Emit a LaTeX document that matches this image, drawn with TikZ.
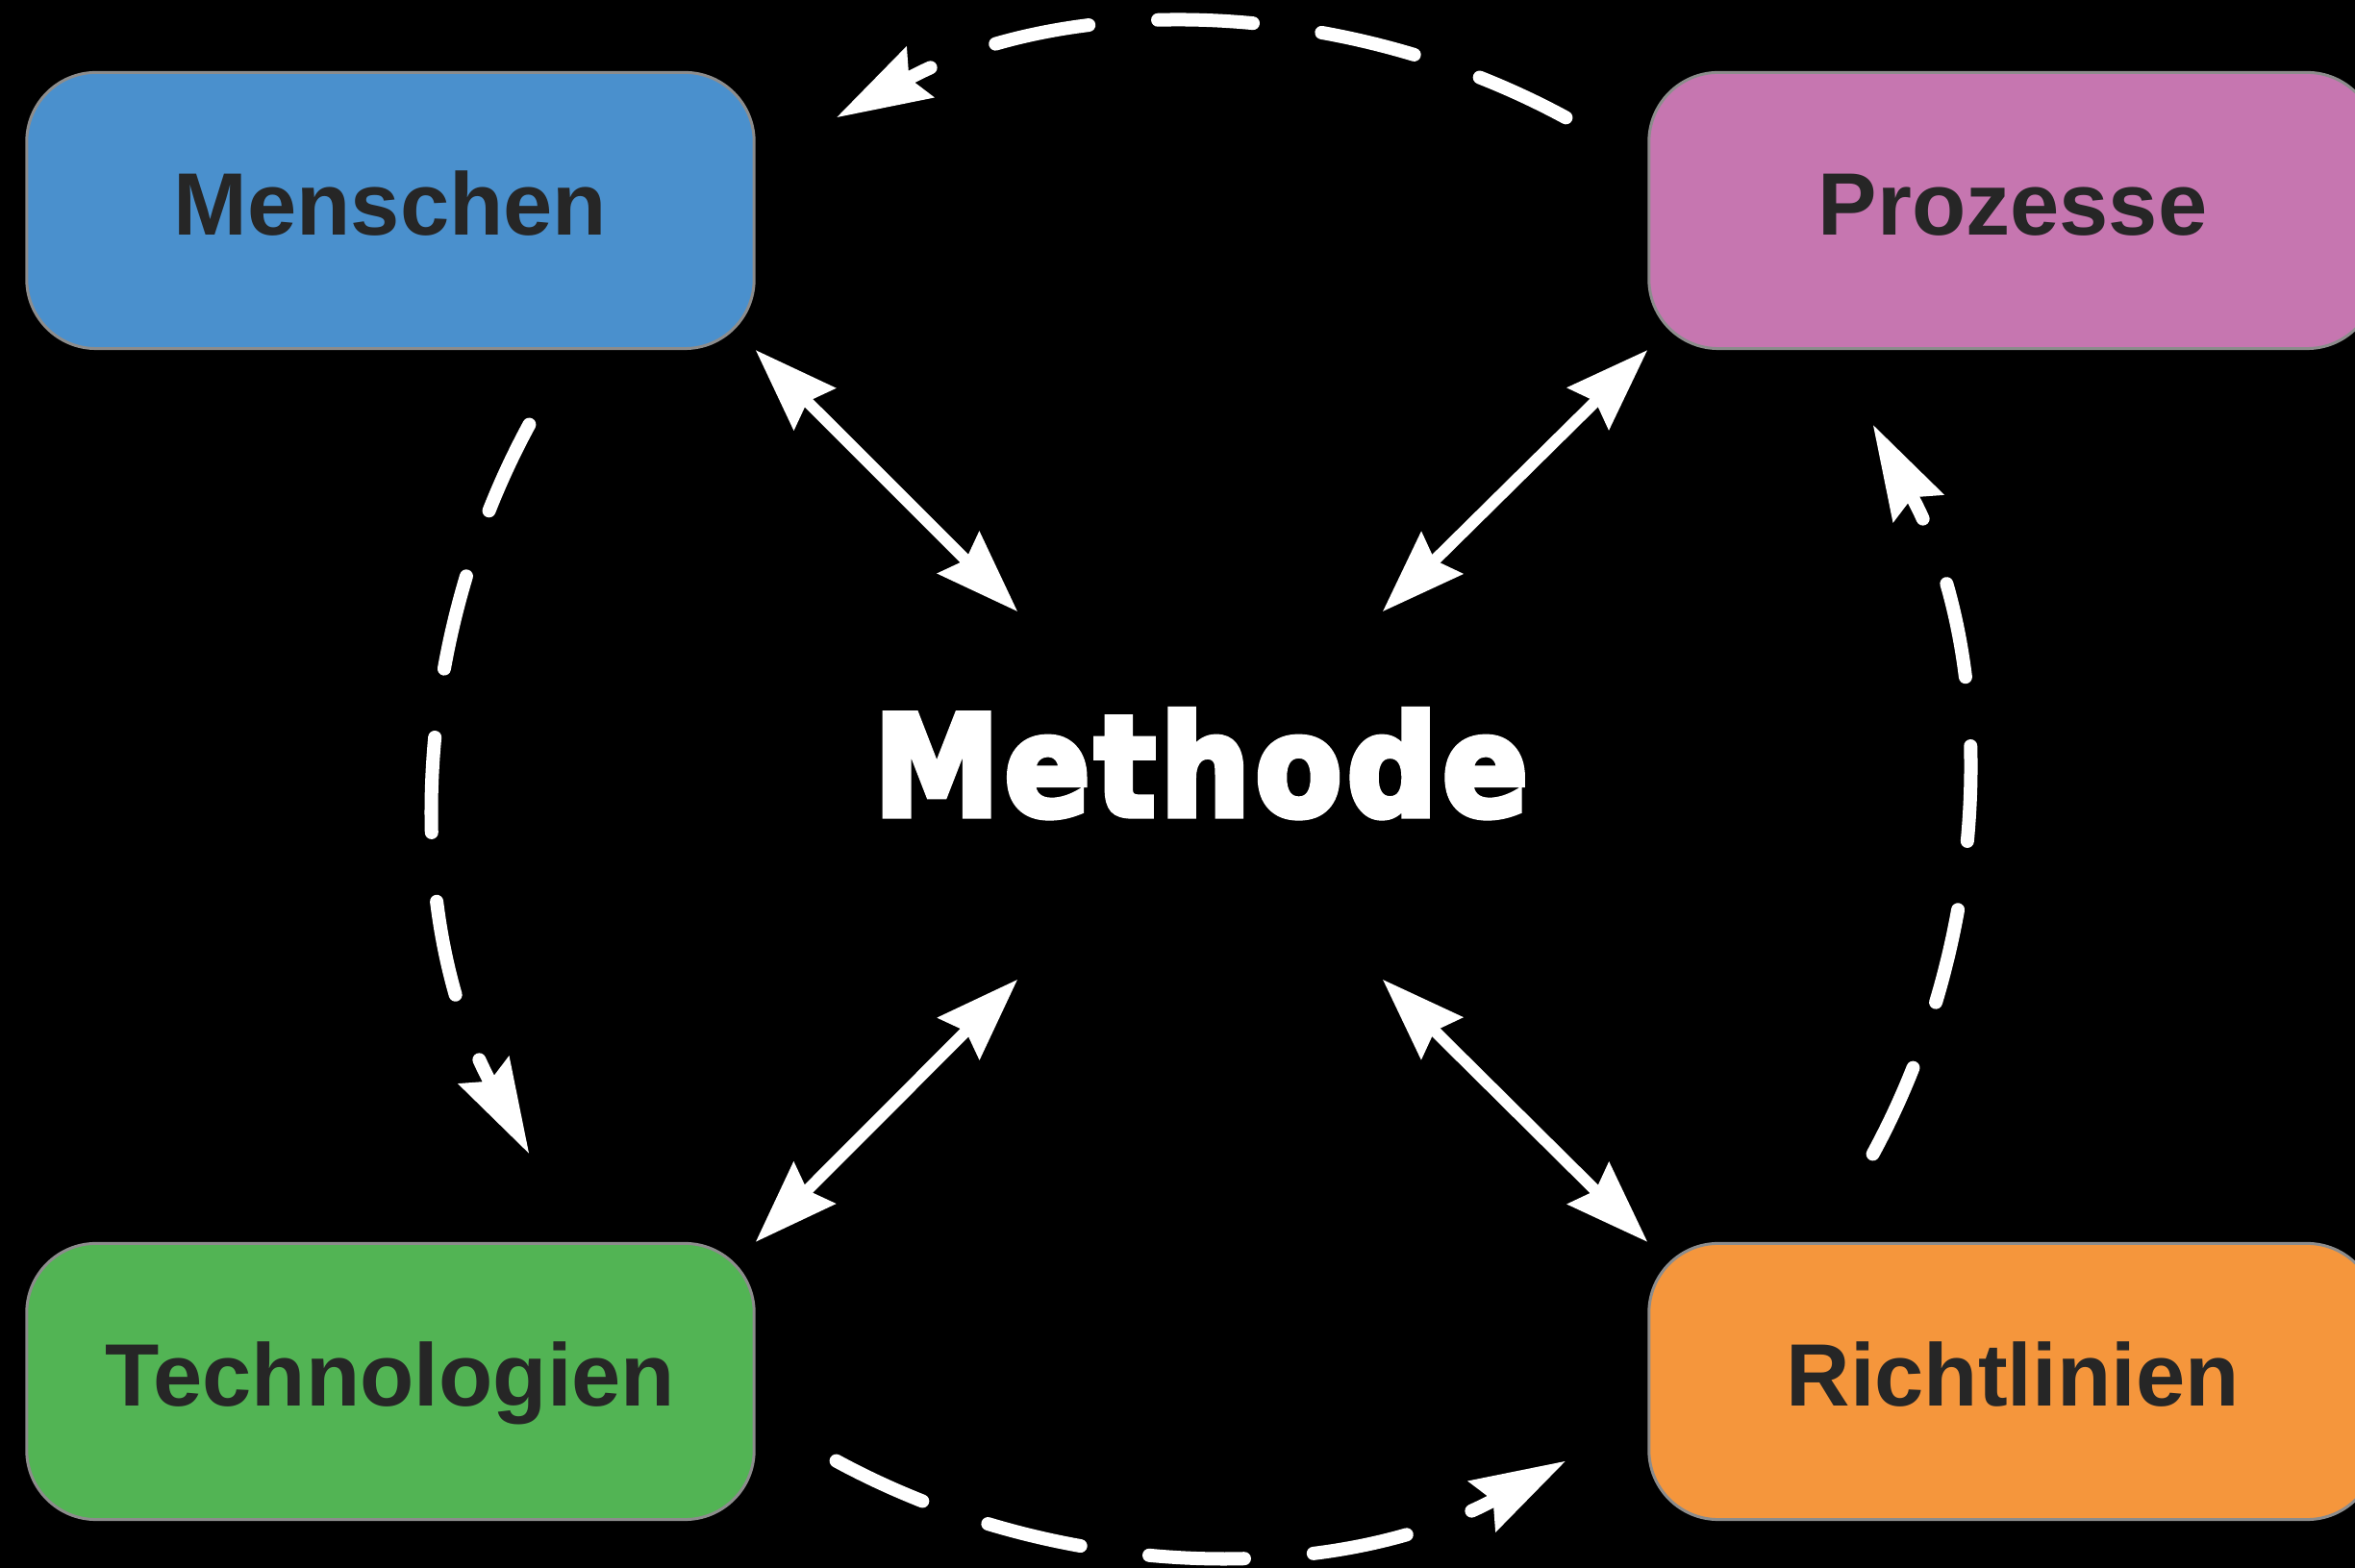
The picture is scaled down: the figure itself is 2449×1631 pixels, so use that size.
\documentclass[tikz,border=0pt]{standalone}
\usepackage{fontspec}
\setmainfont{Liberation Sans}
\newfontfamily\heavyfont[FakeBold=5,LetterSpace=4]{DejaVu Sans}
\usetikzlibrary{arrows.meta}
\definecolor{menblue}{HTML}{4A90CD}
\definecolor{propink}{HTML}{C676B0}
\definecolor{techgreen}{HTML}{52B454}
\definecolor{richorange}{HTML}{F5963C}
\definecolor{boxgray}{HTML}{8C8C8C}
\definecolor{labeltext}{HTML}{262626}
\begin{document}
\begin{tikzpicture}[x=0.01cm,y=0.01cm,
  box/.style={draw=boxgray, line width=0.03cm, rounded corners=0.72cm,
    minimum width=7.56cm, minimum height=2.87cm, inner sep=0pt,
    text height=0.66cm, text depth=0.15cm,
    font=\fontsize{26.2pt}{30pt}\selectfont\bfseries, text=labeltext},
  link/.style={white, line width=0.12cm,
    {Stealth[length=0.86cm,width=0.6cm,inset=0.1cm]}-{Stealth[length=0.86cm,width=0.6cm,inset=0.1cm]}},
  loopline/.style={white, line width=0.14cm, line cap=round,
    dash pattern=on 0.99cm off 0.72cm,
    -{Stealth[length=0.98cm,width=0.58cm,inset=0.12cm]}}
]
\fill[black] (0,0) rectangle (2449,1631);
\useasboundingbox (0,0) rectangle (2449,1631);
\clip (0,0) rectangle (2449,1631);

% boxes
\node[box, fill=menblue]    (men)  at (406,1412) {Menschen};
\node[box, fill=propink]    (pro)  at (2093,1412) {Prozesse};
\node[box, fill=techgreen]  (tech) at (406,194) {Technologien};
\node[box, fill=richorange] (rich) at (2093,194) {Richtlinien};

% centre
\node[inner sep=0pt, anchor=base, text=white,
  font=\heavyfont\bfseries\fontsize{41pt}{48pt}\selectfont] (meth) at (1249,783)
  {\scalebox{0.91}[1]{Methode}};
\node[minimum width=3.78cm, minimum height=3.81cm, inner sep=0pt] (hub) at (1248,803.5) {};

% double arrows
\draw[link] (men.south east) -- (hub.north west);
\draw[link] (pro.south west) -- (hub.north east);
\draw[link] (tech.north east) -- (hub.south west);
\draw[link] (rich.north west) -- (hub.south east);

% cycle points on circle (centre (1249,810), r=795)
\coordinate (topA) at (1628.4,1508.6);
\coordinate (topB) at (869.6,1508.6);
\coordinate (leftA) at (550.4,1189.4);
\coordinate (leftB) at (550.4,430.6);
\coordinate (botA) at (869.6,111.4);
\coordinate (botB) at (1628.4,111.4);
\coordinate (rightA) at (1947.6,430.6);
\coordinate (rightB) at (1947.6,1189.4);

\draw[loopline] (topA) to[bend right=28.5, looseness=0.91] (topB);
\draw[loopline] (leftA) to[bend right=28.5, looseness=0.91] (leftB);
\draw[loopline] (botA) to[bend right=28.5, looseness=0.91] (botB);
\draw[loopline] (rightA) to[bend right=28.5, looseness=0.91] (rightB);
\end{tikzpicture}
\end{document}
